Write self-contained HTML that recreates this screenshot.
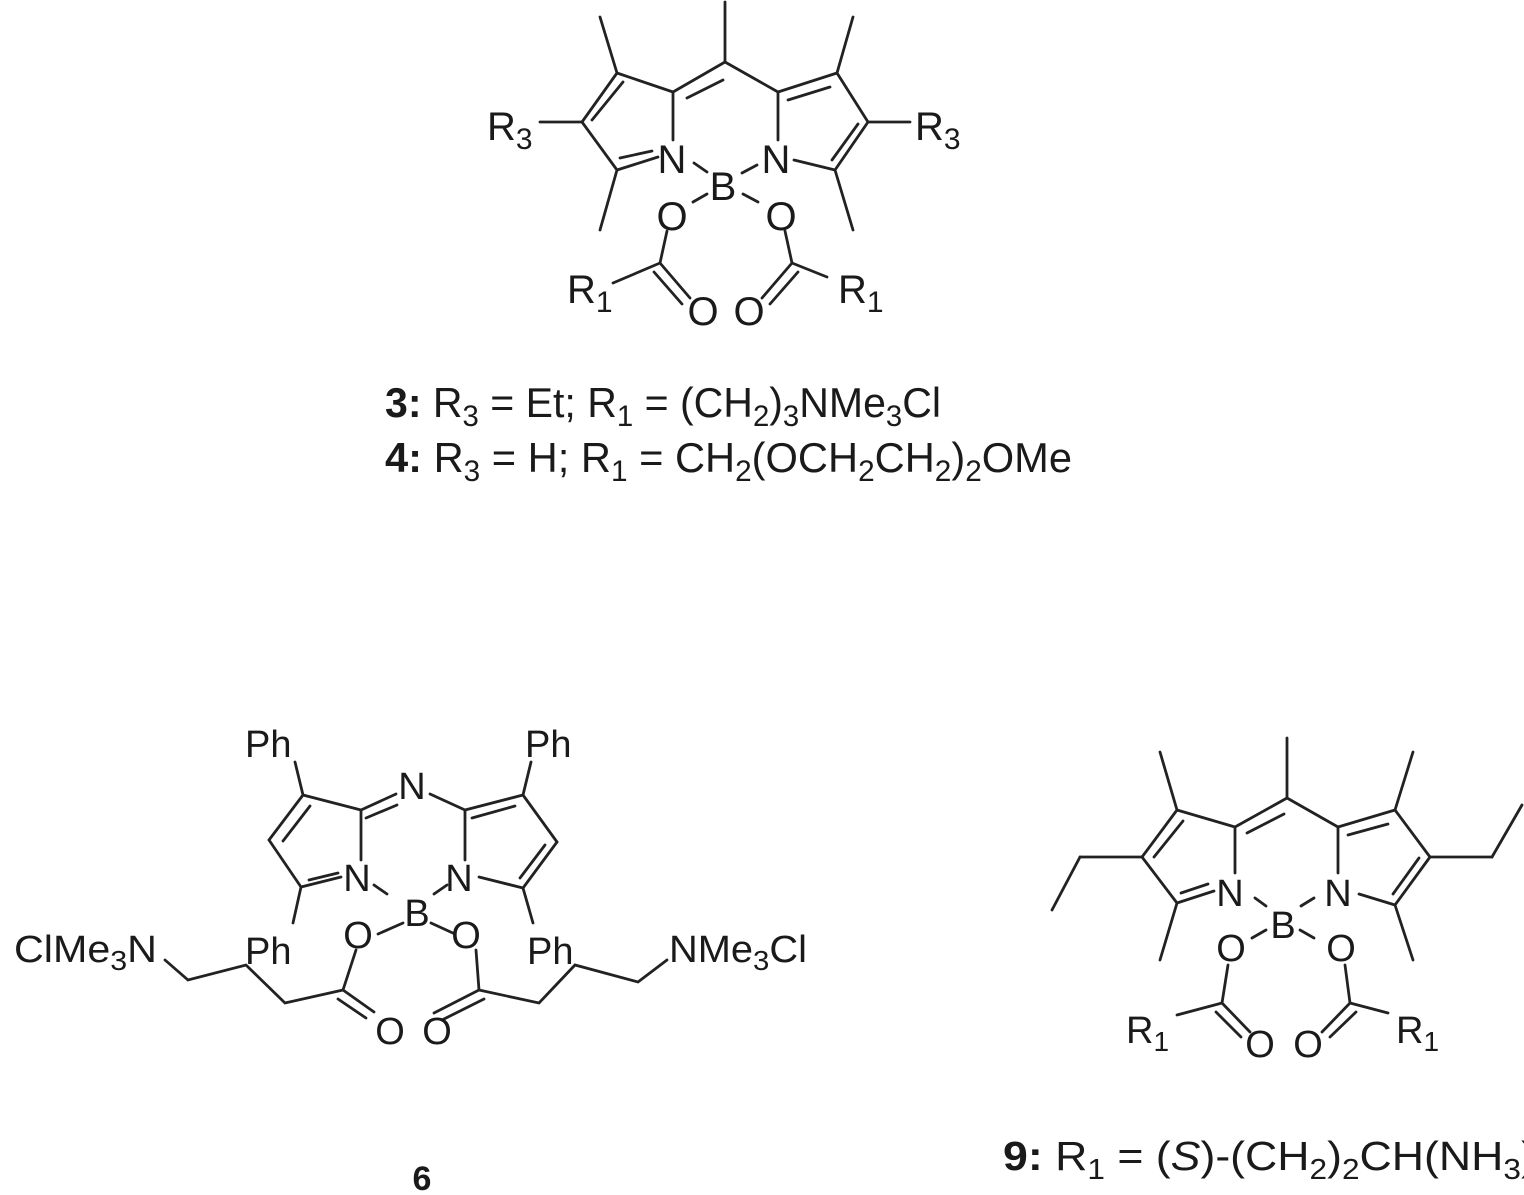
<!DOCTYPE html>
<html><head><meta charset="utf-8"><style>
html,body{margin:0;padding:0;background:#fff;overflow:hidden}
svg{display:block}
text{font-family:"Liberation Sans",Arial,sans-serif;fill:#1a1a1a}
line,polyline{stroke:#222;stroke-width:2.8;fill:none;stroke-linecap:round}
</style></head><body>
<svg width="1524" height="1195" viewBox="0 0 1524 1195" xmlns="http://www.w3.org/2000/svg">
<!-- Structure 3 -->
<g>
<line x1="725" y1="2" x2="725" y2="62"/>
<line x1="725" y1="62" x2="673" y2="92"/>
<line x1="723" y1="80" x2="687" y2="98"/>
<line x1="725" y1="62" x2="778" y2="92"/>
<line x1="673" y1="92" x2="617" y2="73"/>
<line x1="617" y1="73" x2="600" y2="17"/>
<line x1="617" y1="73" x2="582" y2="122"/>
<line x1="623" y1="82" x2="592" y2="120"/>
<line x1="582" y1="122" x2="540" y2="122"/>
<line x1="582" y1="122" x2="617" y2="170"/>
<line x1="617" y1="170" x2="600" y2="230"/>
<line x1="617" y1="170" x2="658" y2="157"/>
<line x1="620" y1="158" x2="652" y2="151"/>
<line x1="673" y1="92" x2="673" y2="140"/>
<line x1="778" y1="92" x2="778" y2="140"/>
<line x1="778" y1="92" x2="837" y2="73"/>
<line x1="788" y1="100" x2="830" y2="87"/>
<line x1="837" y1="73" x2="853" y2="17"/>
<line x1="837" y1="73" x2="868" y2="122"/>
<line x1="868" y1="122" x2="910" y2="122"/>
<line x1="868" y1="122" x2="835" y2="170"/>
<line x1="858" y1="124" x2="832" y2="160"/>
<line x1="835" y1="170" x2="853" y2="230"/>
<line x1="835" y1="170" x2="794" y2="160"/>
<line x1="694" y1="163" x2="707" y2="172"/>
<line x1="742" y1="173" x2="757" y2="165"/>
<line x1="707" y1="194" x2="693" y2="202"/>
<line x1="743" y1="194" x2="758" y2="202"/>
<line x1="667" y1="231" x2="660" y2="263"/>
<line x1="660" y1="263" x2="613" y2="283"/>
<line x1="660" y1="263" x2="690" y2="298"/>
<line x1="654" y1="272" x2="682" y2="304"/>
<line x1="785" y1="231" x2="792" y2="263"/>
<line x1="792" y1="263" x2="827" y2="277"/>
<line x1="792" y1="263" x2="762" y2="298"/>
<line x1="798" y1="272" x2="770" y2="304"/>
<g font-size="40">
<text x="672" y="173" text-anchor="middle">N</text>
<text x="776" y="173" text-anchor="middle">N</text>
<text x="723" y="200" text-anchor="middle">B</text>
<text x="672" y="230" text-anchor="middle">O</text>
<text x="781" y="230" text-anchor="middle">O</text>
<text x="703" y="325" text-anchor="middle">O</text>
<text x="749" y="325" text-anchor="middle">O</text>
<text x="487" y="140">R<tspan font-size="30" dy="9">3</tspan></text>
<text x="915" y="140">R<tspan font-size="30" dy="9">3</tspan></text>
<text x="567" y="303">R<tspan font-size="30" dy="9">1</tspan></text>
<text x="838" y="303">R<tspan font-size="30" dy="9">1</tspan></text>
</g>
</g>
<!-- Captions -->
<text x="385" y="417" font-size="42" textLength="556" lengthAdjust="spacingAndGlyphs"><tspan font-weight="bold">3:</tspan> R<tspan font-size="30" dy="9">3</tspan><tspan dy="-9"> = Et; R</tspan><tspan font-size="30" dy="9">1</tspan><tspan dy="-9"> = (CH</tspan><tspan font-size="30" dy="9">2</tspan><tspan dy="-9">)</tspan><tspan font-size="30" dy="9">3</tspan><tspan dy="-9">NMe</tspan><tspan font-size="30" dy="9">3</tspan><tspan dy="-9">Cl</tspan></text>
<text x="385" y="472" font-size="42" textLength="687" lengthAdjust="spacingAndGlyphs"><tspan font-weight="bold">4:</tspan> R<tspan font-size="30" dy="9">3</tspan><tspan dy="-9"> = H; R</tspan><tspan font-size="30" dy="9">1</tspan><tspan dy="-9"> = CH</tspan><tspan font-size="30" dy="9">2</tspan><tspan dy="-9">(OCH</tspan><tspan font-size="30" dy="9">2</tspan><tspan dy="-9">CH</tspan><tspan font-size="30" dy="9">2</tspan><tspan dy="-9">)</tspan><tspan font-size="30" dy="9">2</tspan><tspan dy="-9">OMe</tspan></text>

<!-- Structure 6 -->
<g>
<line x1="295" y1="762" x2="303" y2="795"/>
<line x1="303" y1="795" x2="361" y2="810"/>
<line x1="303" y1="795" x2="269" y2="840"/>
<line x1="310" y1="806" x2="283" y2="841"/>
<line x1="269" y1="840" x2="301" y2="887"/>
<line x1="301" y1="887" x2="341" y2="877"/>
<line x1="309" y1="880" x2="338" y2="873"/>
<line x1="361" y1="810" x2="361" y2="860"/>
<line x1="361" y1="810" x2="396" y2="794"/>
<line x1="366" y1="818" x2="397" y2="805"/>
<line x1="430" y1="794" x2="465" y2="810"/>
<line x1="465" y1="810" x2="523" y2="795"/>
<line x1="472" y1="818" x2="515" y2="806"/>
<line x1="523" y1="795" x2="531" y2="762"/>
<line x1="523" y1="795" x2="557" y2="842"/>
<line x1="557" y1="842" x2="523" y2="888"/>
<line x1="545" y1="845" x2="520" y2="878"/>
<line x1="523" y1="888" x2="479" y2="877"/>
<line x1="465" y1="810" x2="465" y2="860"/>
<line x1="301" y1="887" x2="293" y2="923"/>
<line x1="523" y1="888" x2="533" y2="923"/>
<line x1="374" y1="885" x2="387" y2="894"/>
<line x1="447" y1="885" x2="434" y2="894"/>
<line x1="403" y1="923" x2="378" y2="934"/>
<line x1="431" y1="923" x2="455" y2="934"/>
<polyline points="165,960 188,980 246,965 285,1003 343,990"/>
<line x1="356" y1="950" x2="343" y2="990"/>
<line x1="343" y1="990" x2="374" y2="1012"/>
<line x1="338" y1="999" x2="366" y2="1018"/>
<line x1="476" y1="950" x2="479" y2="990"/>
<line x1="479" y1="990" x2="434" y2="1013"/>
<line x1="484" y1="999" x2="442" y2="1020"/>
<polyline points="479,990 539,1003 575,965 638,982 667,960"/>
<g font-size="38">
<text x="245" y="757">Ph</text>
<text x="525" y="757">Ph</text>
<text x="412" y="799" text-anchor="middle">N</text>
<text x="357" y="891" text-anchor="middle">N</text>
<text x="459" y="891" text-anchor="middle">N</text>
<text x="417" y="926" text-anchor="middle">B</text>
<text x="358" y="948" text-anchor="middle">O</text>
<text x="466" y="948" text-anchor="middle">O</text>
<text x="245" y="964">Ph</text>
<text x="527" y="964">Ph</text>
<text x="390" y="1044" text-anchor="middle">O</text>
<text x="437" y="1044" text-anchor="middle">O</text>
<text x="14" y="962" textLength="143" lengthAdjust="spacingAndGlyphs">ClMe<tspan font-size="28" dy="8">3</tspan><tspan dy="-8">N</tspan></text>
<text x="669" y="962" textLength="138" lengthAdjust="spacingAndGlyphs">NMe<tspan font-size="28" dy="8">3</tspan><tspan dy="-8">Cl</tspan></text>
</g>
<text x="422" y="1190" font-size="34" font-weight="bold" text-anchor="middle">6</text>
</g>

<!-- Structure 9 -->
<g>
<line x1="1287" y1="738" x2="1287" y2="798"/>
<line x1="1287" y1="798" x2="1235" y2="827"/>
<line x1="1284" y1="814" x2="1247" y2="833"/>
<line x1="1287" y1="798" x2="1338" y2="827"/>
<line x1="1235" y1="827" x2="1177" y2="810"/>
<line x1="1177" y1="810" x2="1160" y2="752"/>
<line x1="1177" y1="810" x2="1142" y2="857"/>
<line x1="1183" y1="821" x2="1154" y2="857"/>
<line x1="1142" y1="857" x2="1080" y2="857"/>
<line x1="1080" y1="857" x2="1052" y2="910"/>
<line x1="1142" y1="857" x2="1177" y2="903"/>
<line x1="1177" y1="903" x2="1160" y2="960"/>
<line x1="1177" y1="903" x2="1214" y2="891"/>
<line x1="1181" y1="893" x2="1208" y2="884"/>
<line x1="1235" y1="827" x2="1235" y2="873"/>
<line x1="1338" y1="827" x2="1338" y2="873"/>
<line x1="1338" y1="827" x2="1395" y2="810"/>
<line x1="1348" y1="835" x2="1388" y2="824"/>
<line x1="1395" y1="810" x2="1413" y2="752"/>
<line x1="1395" y1="810" x2="1430" y2="857"/>
<line x1="1430" y1="857" x2="1492" y2="857"/>
<line x1="1492" y1="857" x2="1522" y2="805"/>
<line x1="1430" y1="857" x2="1395" y2="905"/>
<line x1="1419" y1="858" x2="1393" y2="894"/>
<line x1="1395" y1="905" x2="1413" y2="960"/>
<line x1="1395" y1="905" x2="1359" y2="894"/>
<line x1="1255" y1="898" x2="1266" y2="906"/>
<line x1="1301" y1="906" x2="1314" y2="898"/>
<line x1="1266" y1="930" x2="1252" y2="938"/>
<line x1="1300" y1="930" x2="1314" y2="938"/>
<line x1="1228" y1="965" x2="1222" y2="1003"/>
<line x1="1222" y1="1003" x2="1177" y2="1015"/>
<line x1="1222" y1="1003" x2="1250" y2="1032"/>
<line x1="1216" y1="1012" x2="1241" y2="1037"/>
<line x1="1345" y1="965" x2="1350" y2="1003"/>
<line x1="1350" y1="1003" x2="1388" y2="1013"/>
<line x1="1350" y1="1003" x2="1322" y2="1032"/>
<line x1="1356" y1="1012" x2="1330" y2="1037"/>
<g font-size="38">
<text x="1230" y="906" text-anchor="middle">N</text>
<text x="1338" y="906" text-anchor="middle">N</text>
<text x="1283" y="938" text-anchor="middle">B</text>
<text x="1231" y="961" text-anchor="middle">O</text>
<text x="1341" y="961" text-anchor="middle">O</text>
<text x="1260" y="1057" text-anchor="middle">O</text>
<text x="1308" y="1057" text-anchor="middle">O</text>
<text x="1126" y="1043">R<tspan font-size="28" dy="8">1</tspan></text>
<text x="1396" y="1043">R<tspan font-size="28" dy="8">1</tspan></text>
</g>
<text x="1003" y="1170" font-size="41" textLength="575" lengthAdjust="spacingAndGlyphs"><tspan font-weight="bold">9:</tspan> R<tspan font-size="29" dy="9">1</tspan><tspan dy="-9"> = (</tspan><tspan font-style="italic">S</tspan><tspan>)-(CH</tspan><tspan font-size="29" dy="9">2</tspan><tspan dy="-9">)</tspan><tspan font-size="29" dy="9">2</tspan><tspan dy="-9">CH(NH</tspan><tspan font-size="29" dy="9">3</tspan><tspan dy="-9">)Cl</tspan></text>
</g>
</svg>
</body></html>
